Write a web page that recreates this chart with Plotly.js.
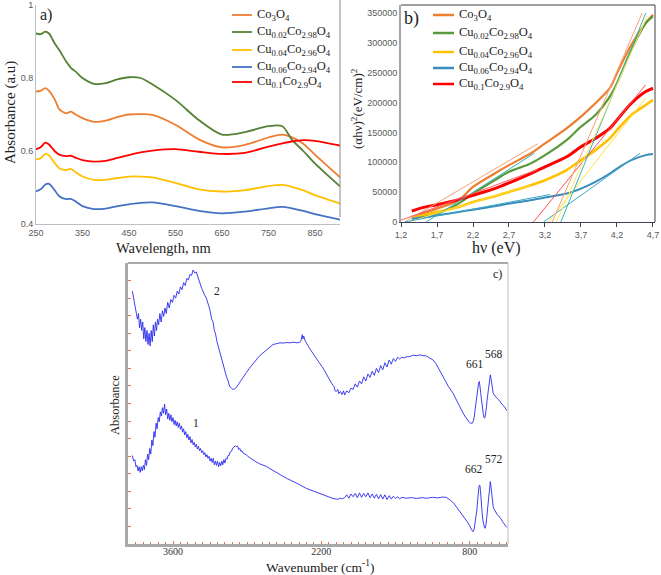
<!DOCTYPE html>
<html><head><meta charset="utf-8">
<script src="https://cdn.plot.ly/plotly-3.0.1.min.js"></script>
<style>html,body{margin:0;padding:0;background:#fff}#chart{width:661px;height:575px}</style>
</head><body><div id="chart"></div>
<script>
// ---------- Panel a: UV-Vis absorbance ----------
const wavelength = [250,260,270,278,290,300,315,325,335,350,375,400,425,450,475,500,550,600,650,700,750,780,800,825,850,904];
const absCo3O4   = [.763,.765,.772,.765,.742,.715,.703,.708,.700,.690,.680,.683,.693,.700,.701,.699,.672,.632,.610,.617,.637,.645,.638,.620,.590,.528];
const absCu002   = [.922,.920,.927,.922,.895,.877,.845,.828,.818,.800,.784,.786,.796,.802,.800,.783,.740,.685,.645,.652,.668,.668,.632,.600,.566,.503];
const absCu004   = [.577,.580,.592,.588,.567,.553,.548,.551,.542,.530,.521,.521,.526,.530,.530,.528,.513,.495,.489,.493,.504,.507,.502,.492,.479,.456];
const absCu006   = [.489,.495,.508,.510,.493,.476,.468,.469,.462,.449,.441,.442,.449,.454,.458,.459,.449,.436,.429,.434,.443,.447,.443,.436,.427,.412];
const absCu01    = [.605,.610,.623,.618,.600,.590,.586,.587,.582,.575,.571,.573,.581,.589,.596,.601,.605,.598,.592,.595,.612,.621,.626,.630,.628,.615];
const aTicks = [250,350,450,550,650,750,850];

// ---------- Panel b: Tauc plot ----------
const energy = [1.35,1.5,1.7,2.0,2.2,2.5,2.7,3.0,3.2,3.5,3.7,3.9,4.1,4.2,4.4,4.6,4.7];
const taucCo3O4 = [8400,14000,22400,36400,58800,81200,95200,114800,131600,156800,176400,198800,224000,249200,296800,333200,347200];
const taucCu002 = [5600,9000,14000,30800,47600,70000,84000,98000,112000,137200,159600,179200,210000,232400,288400,333200,344400];
const taucCu004 = [7280,11000,16800,25200,33600,43100,50400,61600,70000,86800,103600,120400,140000,154000,179200,196000,204400];
const taucCu006 = [5600,8000,11200,16800,20700,26300,30800,36400,40900,47600,56000,67200,81200,89600,103600,112000,113700];
const taucCu01  = [18480,24000,29000,37500,44800,56000,65500,81200,92400,109200,126000,140000,156800,170800,198800,218400,224000];
const bTickVals = [1.2,1.7,2.2,2.7,3.2,3.7,4.2,4.7];
const bTickText = ['1,2','1,7','2,2','2,7','3,2','3,7','4,2','4,7'];
// fitted tangent lines [x0,x1],[y0,y1]
const fitX = [[1.25,3.1],[1.55,3.05],[1.2,3.1],[1.3,3.0],[1.25,3.27],[3.04,4.6],[3.18,4.52],[3.25,4.6],[3.3,4.55],[3.42,4.6],[3.36,4.62]];
const fitY = [[0,131000],[0,115000],[3000,88000],[0,62000],[0,46000],[0,230000],[0,115000],[0,208000],[0,350000],[0,350000],[0,345000]];
const fitColors = ['#F6A070','#35B5B5','#FF6060','#FFE040','#3AA8C0','#FF5050','#3AA8C0','#FFE040','#F6A070','#35B5B5','#FFE866'];

// ---------- Panel c: FTIR ----------
const ftir2 = [[3984,90],[3970,87],[3958,85.5],[3946,83],[3936,80],[3926,82],[3916,77],[3906,80],[3896,76],[3886,79],[3876,73],[3866,77],[3856,72],[3846,76],[3836,71],[3826,75],[3816,70.5],[3806,76],[3796,72],[3786,78],[3776,74],[3766,79],[3756,76],[3746,80],[3736,78],[3724,82],[3712,79],[3700,83],[3688,81],[3676,84],[3664,82],[3650,86],[3636,84],[3620,87],[3605,86],[3590,88.5],[3575,87.5],[3560,90],[3545,89],[3530,91.5],[3515,90.5],[3500,93],[3485,92],[3470,94.5],[3455,94],[3440,96],[3425,95.5],[3411,97.5],[3395,96.5],[3380,96.8],[3364,95],[3345,93],[3330,91],[3300,88.5],[3285,87.5],[3265,85],[3250,83],[3235,80],[3222,79],[3210,76],[3200,75],[3185,72],[3175,70.5],[3160,68.5],[3140,66],[3125,63.5],[3112,62],[3095,59.5],[3080,58],[3065,56],[3049,55.5],[3035,55],[3020,55.2],[3002,55.7],[2980,57],[2960,58],[2935,59.5],[2908,61],[2880,62.5],[2850,64],[2815,65.5],[2782,67],[2750,68],[2720,69],[2690,70],[2656,71],[2620,71.3],[2590,71.6],[2560,71.5],[2530,71.7],[2495,71.6],[2460,71.8],[2430,71.6],[2404,71.7],[2392,72.4],[2380,74.5],[2374,73],[2366,74],[2355,72.5],[2342,71.5],[2320,70.2],[2300,69],[2275,67.5],[2247,66],[2220,64.5],[2190,63],[2155,60.5],[2121,58.5],[2100,57],[2080,56],[2070,54.5],[2058,54.3],[2045,55],[2035,53.5],[2020,54.3],[2005,53.2],[1990,54.5],[1980,53],[1960,54.5],[1940,53.8],[1920,55.5],[1900,55],[1880,57],[1860,55.8],[1840,58],[1820,57],[1800,59.5],[1780,58],[1760,60.5],[1740,59.3],[1720,61.5],[1700,60],[1680,62.5],[1660,61],[1640,63.5],[1620,62],[1600,64.5],[1580,63],[1560,65.5],[1540,64],[1520,66],[1500,65],[1480,66.5],[1460,65.8],[1440,66.5],[1420,66.2],[1400,66.6],[1366,66.7],[1330,67.2],[1300,67],[1270,67.3],[1240,67],[1215,67],[1190,66.5],[1165,66],[1146,65.5],[1120,64.3],[1100,63],[1075,61.5],[1051,59.6],[1025,57.8],[1000,56],[980,55],[957,53.7],[935,52],[910,50],[885,48.2],[862,46.6],[840,45.2],[820,44],[800,43.2],[790,43],[775,43],[765,43.8],[755,45.5],[748,48],[742,50],[737,52],[730,54.5],[723,56.3],[715,57.5],[708,57.8],[702,56.5],[696,54],[690,51.8],[684,49.5],[677,47.2],[670,46],[664,45],[659,44.8],[654,45.3],[648,46.5],[642,48.5],[636,51],[628,54],[620,57.2],[612,59.5],[605,60.2],[599,59],[593,57],[586,55],[578,53.8],[570,53.2],[560,52.5],[545,52],[530,51.5],[515,50.7],[500,50],[485,49.3],[470,48.8],[461,48.3],[450,47.5]];
const ftir1 = [[3984,31.5],[3972,29.5],[3960,30],[3950,27.5],[3940,28],[3930,26],[3920,27.5],[3910,25.5],[3900,27.5],[3890,26],[3880,28],[3870,26.5],[3860,30],[3850,28],[3840,32],[3830,30],[3820,34],[3810,32],[3800,37],[3790,35],[3780,40],[3770,38],[3760,43],[3750,41],[3740,45],[3730,43.5],[3720,47],[3710,45.5],[3700,48.5],[3690,46.5],[3680,49.8],[3670,46],[3660,48],[3650,44.5],[3640,46.5],[3630,44],[3620,46],[3610,43.5],[3600,45],[3590,42.5],[3580,44],[3570,42],[3560,43.5],[3550,41.5],[3540,43],[3530,40.8],[3520,42],[3510,39.8],[3500,41],[3490,38.8],[3480,40],[3470,37.8],[3460,39],[3450,37],[3440,38.2],[3430,36],[3420,37.2],[3410,35.3],[3400,36.2],[3390,34.5],[3380,35.5],[3370,33.8],[3360,34.8],[3350,33.2],[3340,34],[3330,32.5],[3320,33.2],[3310,31.8],[3300,32.5],[3290,31],[3280,31.8],[3270,30.5],[3260,31.2],[3250,29.5],[3240,30.5],[3230,29],[3220,30.5],[3210,28.2],[3200,29.5],[3190,28],[3180,29.5],[3170,27.5],[3160,29],[3150,27.8],[3140,29.5],[3130,28.2],[3120,30],[3110,28.8],[3100,30.5],[3090,30.2],[3080,31.5],[3070,31.5],[3060,32.8],[3049,33],[3035,34.2],[3020,34.5],[3010,35],[3002,34.6],[2990,34.8],[2980,33.6],[2970,34],[2960,33],[2950,33.2],[2940,32.4],[2925,32.2],[2908,31.7],[2880,30.8],[2850,30],[2815,29.2],[2780,28.5],[2750,28.1],[2719,27.6],[2685,26.8],[2650,26],[2590,24.7],[2530,23.4],[2490,22.7],[2450,22],[2400,21],[2342,19.8],[2300,19.2],[2250,18.3],[2200,17.5],[2153,16.9],[2120,16.4],[2090,16.2],[2060,16],[2043,15.9],[2020,16.3],[2000,16.1],[1980,16.5],[1960,17.5],[1940,16.3],[1920,17.8],[1900,16.8],[1880,18],[1860,16.5],[1840,18.2],[1820,16.6],[1800,18],[1780,16.8],[1760,18.2],[1740,16.5],[1720,17.8],[1700,16.3],[1680,17.7],[1660,16.1],[1640,17.6],[1620,16],[1600,17.5],[1580,15.8],[1560,17.2],[1540,16],[1520,17],[1500,16.2],[1480,16.8],[1460,16.1],[1440,16.6],[1400,16.3],[1350,16.5],[1300,16.2],[1250,16.5],[1209,16.3],[1150,16.6],[1100,16.4],[1060,16.7],[1020,16.6],[1000,16.2],[980,15.5],[950,14.5],[926,13.3],[900,12.2],[880,11],[855,9.8],[831,8.6],[815,7.5],[800,6.5],[790,5.6],[780,5],[768,4.4],[760,5],[755,6],[749,7.5],[745,8],[740,9],[737,10],[732,12],[728,14],[723,16.5],[718,18.5],[712,20.5],[706,21],[702,20.5],[698,19],[692,15],[687,12.5],[681,10.5],[675,8.5],[670,7],[665,6.2],[660,5.8],[653,5.6],[648,6.2],[645,7],[640,9],[635,11],[631,13],[627,15],[622,17],[618,19],[613,20.8],[610,21.5],[605,22.2],[601,21.3],[598,20],[594,18.2],[590,16.5],[586,15],[582,14],[578,13.3],[574,12.7],[565,12],[560,11.5],[550,11],[540,10.5],[528,10.1],[517,9.7],[505,9],[490,8],[475,7.2],[461,6.4],[450,5.9]];
const cTicks = [3600,2200,800];

// ---------- Series names / colours ----------
const seriesNames = ['Co<sub>3</sub>O<sub>4</sub>','Cu<sub>0.02</sub>Co<sub>2.98</sub>O<sub>4</sub>','Cu<sub>0.04</sub>Co<sub>2.96</sub>O<sub>4</sub>','Cu<sub>0.06</sub>Co<sub>2.94</sub>O<sub>4</sub>','Cu<sub>0.1</sub>Co<sub>2.9</sub>O<sub>4</sub>'];
const colorsA = ['#ED7D31','#548235','#FFC000','#4472C4','#FF0000'];
const colorsB = ['#ED7D31','#5A9A3C','#FFC000','#3A8CBF','#FF0000'];

const W=661,H=575;
const fx=p=>p/W, fy=p=>1-p/H;
const traces=[];
const aSeries=[absCo3O4,absCu002,absCu004,absCu006,absCu01];
aSeries.forEach((s,i)=>traces.push({x:wavelength,y:s,type:'scatter',mode:'lines',xaxis:'x',yaxis:'y',line:{color:colorsA[i],width:1.8,shape:'spline',smoothing:0.8},hoverinfo:'skip'}));
const bSeries=[taucCo3O4,taucCu002,taucCu004,taucCu006,taucCu01];
const bWidths=[2.2,2.2,2.6,2.0,3.0];
bSeries.forEach((s,i)=>traces.push({x:energy,y:s,type:'scatter',mode:'lines',xaxis:'x2',yaxis:'y2',line:{color:colorsB[i],width:bWidths[i],shape:'spline',smoothing:0.8},hoverinfo:'skip'}));
fitX.forEach((fxv,i)=>traces.push({x:fxv,y:fitY[i],type:'scatter',mode:'lines',xaxis:'x2',yaxis:'y2',line:{color:fitColors[i],width:1},hoverinfo:'skip'}));
[ftir2,ftir1].forEach(d=>traces.push({x:d.map(p=>p[0]),y:d.map(p=>p[1]),type:'scatter',mode:'lines',xaxis:'x3',yaxis:'y3',line:{color:'#2a2aee',width:0.9},hoverinfo:'skip'}));

const annotations=[];
const shapes=[];
function ann(text,x,y,size,opts){annotations.push(Object.assign({text:text,xref:'paper',yref:'paper',x:fx(x),y:fy(y),xanchor:'center',yanchor:'middle',showarrow:false,font:{family:'Liberation Serif',size:size,color:'#222'}},opts||{}));}
// legends
const legA=[15,32,50,67,82], legB=[15,33,52,68,84];
seriesNames.forEach((n,i)=>{
  shapes.push({type:'line',xref:'paper',yref:'paper',x0:fx(232),x1:fx(252),y0:fy(legA[i]),y1:fy(legA[i]),line:{color:colorsA[i],width:1.8}});
  ann(n,255,legA[i],12.5,{xanchor:'left'});
  shapes.push({type:'line',xref:'paper',yref:'paper',x0:fx(433),x1:fx(454),y0:fy(legB[i]),y1:fy(legB[i]),line:{color:colorsB[i],width:2.5}});
  ann(n,457,legB[i],12.5,{xanchor:'left'});
});
ann('a)',46,15,16,{});
ann('b)',411,19,18,{});
ann('c)',497,274,12,{});
ann('Absorbance (a.u)',10,113,15,{textangle:-90});
ann('Wavelength, nm',163,248,14.5,{});
ann('(αhν)<sup>2</sup>(eV/cm)<sup>2</sup>',357,108,13,{textangle:-90});
ann('hν (eV)',496,248,16,{});
ann('Absorbance',115,405,12.5,{textangle:-90});
ann('Wavenumber (cm<sup>-1</sup>)',320,566,13.5,{});
ann('2',217,291,11.5,{});
ann('1',196,423,11.5,{});
ann('661',475,364,11.5,{});
ann('568',494,354,11.5,{});
ann('662',474,469,11.5,{});
ann('572',494,459,11.5,{});

// frames
shapes.push({type:'line',xref:'paper',yref:'paper',x0:fx(340),x1:fx(340),y0:fy(0),y1:fy(217),line:{color:'#8a8a8a',width:1}});
shapes.push({type:'line',xref:'paper',yref:'paper',x0:fx(401),x1:fx(655),y0:fy(5),y1:fy(5),line:{color:'#404040',width:1}});
shapes.push({type:'line',xref:'paper',yref:'paper',x0:fx(655),x1:fx(655),y0:fy(5),y1:fy(222),line:{color:'#404040',width:1}});
shapes.push({type:'line',xref:'paper',yref:'paper',x0:fx(128),x1:fx(508),y0:fy(263),y1:fy(263),line:{color:'#555',width:1}});
shapes.push({type:'line',xref:'paper',yref:'paper',x0:fx(508),x1:fx(508),y0:fy(263),y1:fy(544),line:{color:'#bbb',width:1}});

const base={showgrid:false,zeroline:false,fixedrange:true};
const layout={
  width:661,height:575,margin:{l:0,r:0,t:0,b:0},paper_bgcolor:'#fff',plot_bgcolor:'rgba(0,0,0,0)',showlegend:false,
  font:{family:'Liberation Serif',color:'#222'},
  xaxis:Object.assign({},base,{domain:[fx(36),fx(340)],range:[250,904],tickmode:'array',tickvals:aTicks,showline:true,linecolor:'#bfbfbf',linewidth:1,ticks:'',tickfont:{family:'Liberation Sans',size:9,color:'#595959'},anchor:'y'}),
  yaxis:Object.assign({},base,{domain:[fy(224),fy(5)],range:[0.4,1.0],dtick:0.2,tick0:0.4,showline:true,linecolor:'#bfbfbf',linewidth:1,ticks:'',tickfont:{family:'Liberation Sans',size:9,color:'#595959'},anchor:'x'}),
  xaxis2:Object.assign({},base,{domain:[fx(401),fx(655)],range:[1.2,4.728],tickmode:'array',tickvals:bTickVals,ticktext:bTickText,showline:true,linecolor:'#40405a',linewidth:1,ticks:'outside',ticklen:4,tickcolor:'#40405a',tickfont:{family:'Liberation Sans',size:9,color:'#595959'},anchor:'y2'}),
  yaxis2:Object.assign({},base,{domain:[fy(222),fy(5)],range:[0,363400],tickmode:'array',tickvals:[0,50000,100000,150000,200000,250000,300000,350000],tickformat:'d',showline:true,linecolor:'#a6a6a6',linewidth:2,ticks:'',tickfont:{family:'Liberation Sans',size:9,color:'#595959'},anchor:'x2'}),
  xaxis3:Object.assign({},base,{domain:[fx(128),fx(508)],range:[4025,438],tickmode:'array',tickvals:cTicks,showline:true,linecolor:'#a8a8a8',linewidth:3,ticks:'inside',ticklen:3,tickcolor:'#e87050',ticklabelstandoff:-4,minor:{tickmode:'linear',tick0:800,dtick:70,ticks:'inside',ticklen:2,tickcolor:'#e87050'},tickfont:{family:'Liberation Serif',size:10,color:'#333'},anchor:'y3'}),
  yaxis3:Object.assign({},base,{domain:[fy(544),fy(263)],range:[0,100],dtick:6.25,tick0:0,showticklabels:false,showline:true,linecolor:'#a8a8a8',linewidth:3,ticks:'inside',ticklen:3,tickcolor:'#e87050',anchor:'x3'}),
  annotations:annotations,shapes:shapes
};
Plotly.newPlot('chart',traces,layout,{staticPlot:true,displayModeBar:false});
</script>
</body></html>
